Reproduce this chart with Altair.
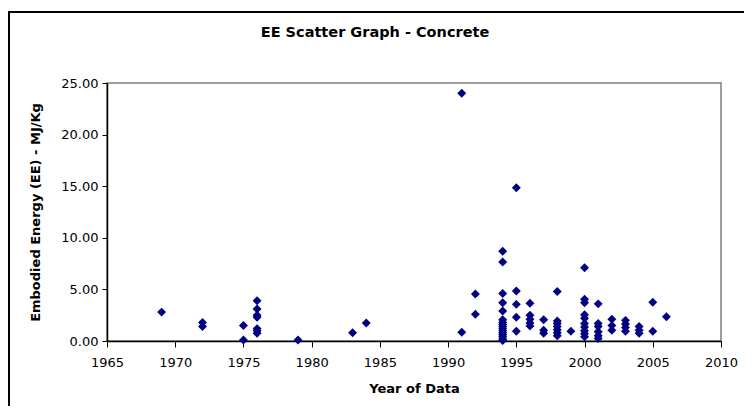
import altair as alt
import pandas as pd

# Year of data for each point
years = [
    1969,
    1972, 1972,
    1975, 1975,
    1976, 1976, 1976, 1976, 1976, 1976, 1976,
    1979,
    1983,
    1984,
    1991, 1991,
    1992, 1992,
    1994, 1994, 1994, 1994, 1994, 1994, 1994, 1994, 1994, 1994, 1994, 1994, 1994, 1994, 1994, 1994,
    1995, 1995, 1995, 1995, 1995,
    1996, 1996, 1996, 1996, 1996,
    1997, 1997, 1997,
    1998, 1998, 1998, 1998, 1998, 1998, 1998,
    1999,
    2000, 2000, 2000, 2000, 2000, 2000, 2000, 2000, 2000, 2000,
    2001, 2001, 2001, 2001, 2001, 2001,
    2002, 2002, 2002,
    2003, 2003, 2003, 2003,
    2004, 2004, 2004,
    2005, 2005,
    2006,
]

# Embodied energy (MJ/Kg) for each point
ee_values = [
    2.8,
    1.8, 1.4,
    1.5, 0.1,
    3.9, 3.1, 2.5, 2.3, 1.2, 1.0, 0.75,
    0.1,
    0.8,
    1.75,
    24.0, 0.85,
    4.55, 2.6,
    8.7, 7.65, 4.6, 3.7, 2.9, 2.05, 1.8, 1.6, 1.4, 1.2, 1.0, 0.8, 0.6, 0.4, 0.2, 0.05,
    14.85, 4.85, 3.55, 2.3, 0.95,
    3.65, 2.5, 2.1, 1.75, 1.45,
    2.05, 1.05, 0.75,
    4.8, 1.95, 1.7, 1.4, 1.1, 0.8, 0.5,
    0.95,
    7.1, 4.05, 3.7, 2.55, 2.2, 1.7, 1.35, 1.0, 0.7, 0.4,
    3.6, 1.7, 1.4, 0.9, 0.5, 0.25,
    2.1, 1.5, 1.05,
    2.0, 1.65, 1.3, 0.95,
    1.4, 1.05, 0.75,
    3.75, 0.95,
    2.35,
]

x_ticks = [1965, 1970, 1975, 1980, 1985, 1990, 1995, 2000, 2005, 2010]
y_ticks = [0, 5, 10, 15, 20, 25]

title_text = "EE Scatter Graph - Concrete"
x_title = "Year of Data"
y_title = "Embodied Energy (EE) - MJ/Kg"

FONT = "DejaVu Sans"

df = pd.DataFrame({"year": years, "ee": ee_values})

W, H = 614, 258

points = alt.Chart(df).mark_point(
    shape="diamond", filled=True, color="#000080", size=80, opacity=1
).encode(
    x=alt.X(
        "year:Q",
        scale=alt.Scale(domain=[1965, 2010], nice=False, zero=False),
        axis=alt.Axis(
            values=x_ticks, format="d", title=x_title, grid=False,
            domainColor="#000000", domainWidth=1.5, tickColor="#000000",
            tickSize=6, labelPadding=9, labelFont=FONT, labelFontSize=13,
            labelColor="#000000", labelFlush=False,
            titleFont=FONT, titleFontSize=13, titleFontWeight="bold",
            titleColor="#000000", titleY=47, titleBaseline="middle",
        ),
    ),
    y=alt.Y(
        "ee:Q",
        scale=alt.Scale(domain=[0, 25], nice=False, zero=True),
        axis=alt.Axis(
            values=y_ticks, format=".2f", title=y_title, grid=False,
            domainColor="#000000", domainWidth=1.5, tickColor="#000000",
            tickSize=5, labelPadding=4, labelFont=FONT, labelFontSize=13,
            labelColor="#000000", labelFlush=False,
            titleFont=FONT, titleFontSize=13, titleFontWeight="bold",
            titleColor="#000000", titleX=-72, titleY=H / 2,
            titleAngle=270, titleBaseline="middle", titleAlign="center",
        ),
    ),
)

title_df = pd.DataFrame({"t": [title_text]})
title_mark = alt.Chart(title_df).mark_text(
    font=FONT, fontSize=14.5, fontWeight="bold", color="#000000",
    align="center", baseline="middle",
).encode(text="t:N", x=alt.value(268), y=alt.value(-50))

border = alt.Chart(title_df).mark_rect(
    fillOpacity=0, stroke="#000000", strokeWidth=2
).encode(
    x=alt.value(-98), x2=alt.value(660), y=alt.value(-71), y2=alt.value(340)
)

chart = alt.layer(border, points, title_mark).properties(
    width=W, height=H,
    autosize=alt.AutoSizeParams(type="none"),
    padding={"left": 99, "top": 75, "right": 23, "bottom": 65},
    background="#ffffff",
).configure_view(stroke="#808080", strokeWidth=1.5)

chart.save("out.html", embed_options={"renderer": "svg", "actions": False})
